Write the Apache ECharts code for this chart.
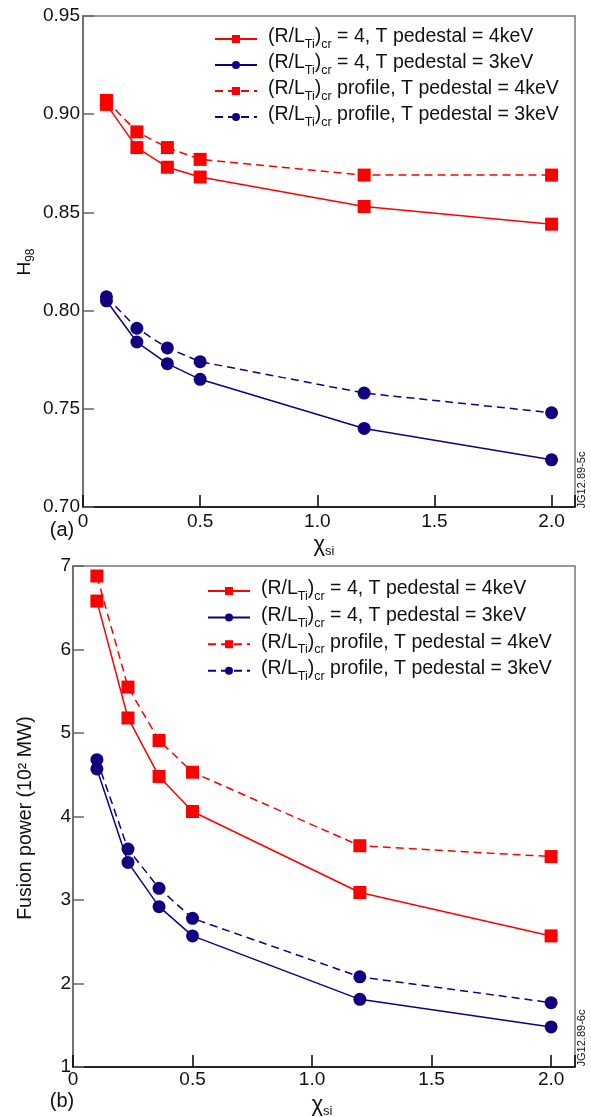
<!DOCTYPE html>
<html><head><meta charset="utf-8">
<script src="https://cdn.jsdelivr.net/npm/echarts@6/dist/echarts.min.js"></script>
<style>html,body{margin:0;padding:0;background:#fff}#c{width:591px;height:1117px}</style>
</head><body><div id="c"></div><script>
// x values (chi_si)
const chi = [0.1, 0.23, 0.36, 0.5, 1.2, 2.0];
// panel (a): H98
const h98_r4_4keV   = [0.905, 0.883, 0.873, 0.868, 0.853, 0.844];
const h98_r4_3keV   = [0.805, 0.784, 0.773, 0.765, 0.740, 0.724];
const h98_prof_4keV = [0.907, 0.891, 0.883, 0.877, 0.869, 0.869];
const h98_prof_3keV = [0.807, 0.791, 0.781, 0.774, 0.758, 0.748];
// panel (b): fusion power (10^2 MW)
const pf_r4_4keV   = [6.58, 5.18, 4.48, 4.06, 3.09, 2.57];
const pf_r4_3keV   = [4.57, 3.45, 2.92, 2.57, 1.81, 1.48];
const pf_prof_4keV = [6.88, 5.55, 4.91, 4.53, 3.65, 3.52];
const pf_prof_3keV = [4.68, 3.61, 3.14, 2.78, 2.08, 1.77];
// legend labels
const legendKeys = ['A', 'B', 'C', 'D'];
const legendText = {
  A: '{m|(R/L}{s|Ti}{m|)}{s|cr}{m| = 4, T pedestal = 4keV}',
  B: '{m|(R/L}{s|Ti}{m|)}{s|cr}{m| = 4, T pedestal = 3keV}',
  C: '{m|(R/L}{s|Ti}{m|)}{s|cr}{m| profile, T pedestal = 4keV}',
  D: '{m|(R/L}{s|Ti}{m|)}{s|cr}{m| profile, T pedestal = 3keV}'
};

const RED = '#ff0000', NAVY = '#110080';
const FONT = '"Liberation Sans", Arial, Helvetica, sans-serif';
const styles = {
  A: {color: RED, type: 'solid', symbol: 'rect'},
  B: {color: NAVY, type: 'solid', symbol: 'circle'},
  C: {color: RED, type: [8, 5], symbol: 'rect'},
  D: {color: NAVY, type: [8, 5], symbol: 'circle'}
};
const panelA = {A: h98_r4_4keV, B: h98_r4_3keV, C: h98_prof_4keV, D: h98_prof_3keV};
const panelB = {A: pf_r4_4keV, B: pf_r4_3keV, C: pf_prof_4keV, D: pf_prof_3keV};

function mk(key, arr, gi) {
  const st = styles[key];
  return {
    type: 'line', name: key, xAxisIndex: gi, yAxisIndex: gi,
    data: chi.map((x, i) => [x, arr[i]]),
    symbol: st.symbol, symbolSize: 13, showSymbol: true,
    lineStyle: {color: st.color, width: 1.5, type: st.type},
    itemStyle: {color: st.color},
    animation: false, z: 3
  };
}
const series = [];
legendKeys.forEach(k => series.push(mk(k, panelA[k], 0)));
legendKeys.forEach(k => series.push(mk(k, panelB[k], 1)));

const rich = {
  m: {fontSize: 19.5, fontFamily: FONT, color: '#111', padding: [0, 0, 4, 0], verticalAlign: 'bottom'},
  s: {fontSize: 12.5, fontFamily: FONT, color: '#111', verticalAlign: 'bottom'}
};
function legendCfg(left, top, gap) {
  return {
    left: left, top: top, orient: 'vertical', padding: 0, itemWidth: 42, itemHeight: 10, itemGap: gap,
    data: legendKeys, selectedMode: false,
    formatter: n => legendText[n],
    textStyle: {rich: rich, padding: [0, 0, 0, 6]}
  };
}
const xLab = v => (v > 2.05 ? '' : (v === 0 ? '0' : v.toFixed(1)));
const axisLabelStyle = {fontSize: 19, fontFamily: FONT, color: '#111'};

const option = {
  backgroundColor: '#fff',
  animation: false,
  grid: [
    {left: 83, top: 16, width: 492, height: 491, show: true, borderColor: '#777', borderWidth: 1.5},
    {left: 73, top: 566, width: 502, height: 501, show: true, borderColor: '#777', borderWidth: 1.5}
  ],
  xAxis: [
    {type: 'value', gridIndex: 0, min: 0, max: 2.1, interval: 0.5, splitLine: {show: false},
     axisLine: {lineStyle: {color: '#000', width: 1.5}}, axisTick: {inside: true, length: 12, lineStyle: {color: '#000', width: 1.5}},
     axisLabel: Object.assign({formatter: xLab, margin: 5}, axisLabelStyle)},
    {type: 'value', gridIndex: 1, min: 0, max: 2.1, interval: 0.5, splitLine: {show: false},
     axisLine: {lineStyle: {color: '#000', width: 1.5}}, axisTick: {inside: true, length: 12, lineStyle: {color: '#000', width: 1.5}},
     axisLabel: Object.assign({formatter: xLab, margin: 3}, axisLabelStyle)}
  ],
  yAxis: [
    {type: 'value', gridIndex: 0, min: 0.70, max: 0.95, interval: 0.05, splitLine: {show: false},
     axisLine: {lineStyle: {color: '#666', width: 1.5}}, axisTick: {inside: true, length: 11, lineStyle: {color: '#666', width: 1.5}},
     axisLabel: Object.assign({formatter: v => v.toFixed(2), margin: 3}, axisLabelStyle)},
    {type: 'value', gridIndex: 1, min: 1, max: 7, interval: 1, splitLine: {show: false},
     axisLine: {lineStyle: {color: '#666', width: 1.5}}, axisTick: {inside: true, length: 11, lineStyle: {color: '#666', width: 1.5}},
     axisLabel: Object.assign({formatter: v => String(Math.round(v)), margin: 2}, axisLabelStyle)}
  ],
  legend: [legendCfg(214, 27, 2), legendCfg(207, 579, 2.6)],
  series: series,
  graphic: [
    {type: 'text', x: 26, y: 262, rotation: Math.PI / 2,
     style: {text: '{h|H}{s|98}', align: 'center', verticalAlign: 'middle',
       rich: {h: {fontSize: 19, fontFamily: FONT, fill: '#111', padding: [0, 0, 3, 0], verticalAlign: 'bottom'},
              s: {fontSize: 12, fontFamily: FONT, fill: '#111', verticalAlign: 'bottom'}}}},
    {type: 'text', x: 26, y: 818, rotation: Math.PI / 2,
     style: {text: 'Fusion power (10² MW)', align: 'center', verticalAlign: 'middle', fontSize: 19.5, fontFamily: FONT, fill: '#111'}},
    {type: 'text', x: 324, y: 546,
     style: {text: '{c|χ}{s|si}', align: 'center', verticalAlign: 'middle',
       rich: {c: {fontSize: 22, fontFamily: FONT, fill: '#111', padding: [0, 0, 2, 0], verticalAlign: 'bottom'},
              s: {fontSize: 13, fontFamily: FONT, fill: '#111', verticalAlign: 'bottom'}}}},
    {type: 'text', x: 322, y: 1106,
     style: {text: '{c|χ}{s|si}', align: 'center', verticalAlign: 'middle',
       rich: {c: {fontSize: 22, fontFamily: FONT, fill: '#111', padding: [0, 0, 2, 0], verticalAlign: 'bottom'},
              s: {fontSize: 13, fontFamily: FONT, fill: '#111', verticalAlign: 'bottom'}}}},
    {type: 'text', x: 62, y: 530, style: {text: '(a)', align: 'center', verticalAlign: 'middle', fontSize: 20, fontFamily: FONT, fill: '#111'}},
    {type: 'text', x: 62, y: 1101, style: {text: '(b)', align: 'center', verticalAlign: 'middle', fontSize: 20, fontFamily: FONT, fill: '#111'}},
    {type: 'text', x: 582, y: 480, rotation: Math.PI / 2,
     style: {text: 'JG12.89-5c', align: 'center', verticalAlign: 'middle', fontSize: 11, fontFamily: FONT, fill: '#111'}},
    {type: 'text', x: 582, y: 1038, rotation: Math.PI / 2,
     style: {text: 'JG12.89-6c', align: 'center', verticalAlign: 'middle', fontSize: 11, fontFamily: FONT, fill: '#111'}}
  ]
};
const chart = echarts.init(document.getElementById('c'), null, {renderer: 'canvas'});
chart.setOption(option);
</script></body></html>
